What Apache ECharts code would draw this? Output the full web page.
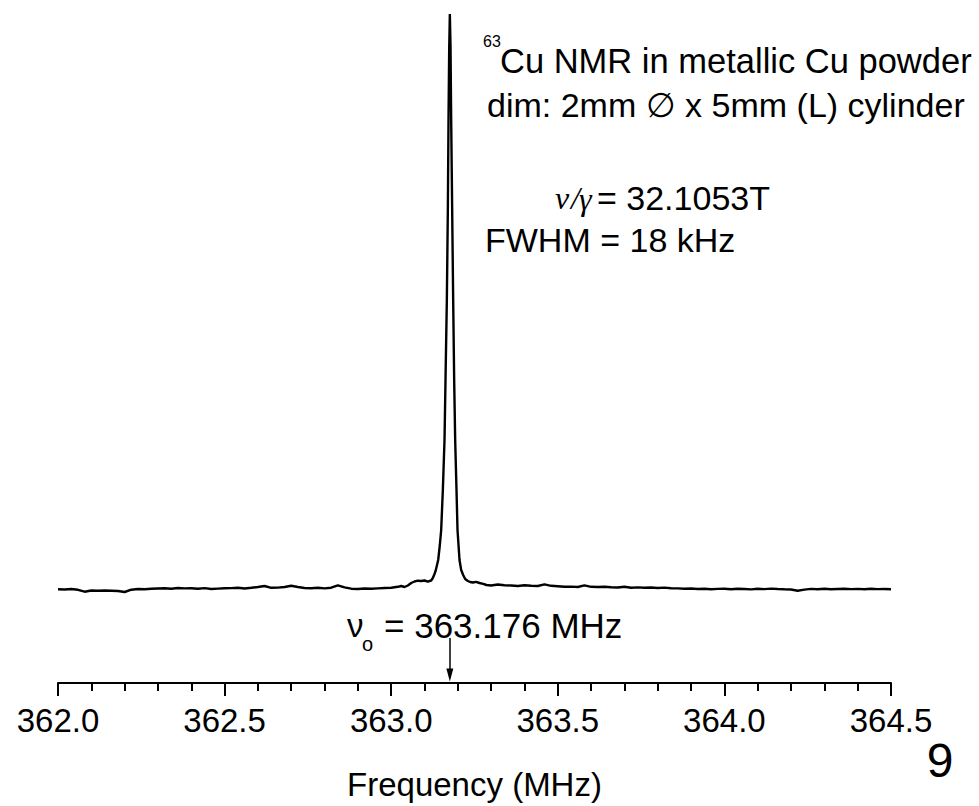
<!DOCTYPE html>
<html><head><meta charset="utf-8">
<script src="https://cdn.jsdelivr.net/npm/echarts@6/dist/echarts.min.js"></script>
<style>html,body{margin:0;padding:0;background:#fff}#c{width:979px;height:806px}</style>
</head><body><div id="c"></div>
<script>
// ---- data ----
const freqMHz = [
362.00,362.02,362.04,362.06,362.08,362.10,362.12,362.14,362.16,362.18,
362.20,362.22,362.24,362.26,362.28,362.30,362.32,362.34,362.36,362.38,
362.40,362.42,362.44,362.46,362.48,362.50,362.52,362.54,362.56,362.58,
362.60,362.62,362.64,362.66,362.68,362.70,362.72,362.74,362.76,362.78,
362.80,362.82,362.84,362.86,362.88,362.90,362.92,362.94,362.96,362.98,
363.00,363.02,363.03,363.04,363.05,363.06,363.07,363.08,363.09,363.10,
363.11,363.12,363.125,363.130,363.134,363.141,363.146,363.150,363.155,363.160,
363.163,363.167,363.170,363.172,363.174,363.176,363.178,363.180,363.183,363.186,
363.189,363.192,363.196,363.199,363.205,363.210,363.216,363.222,363.230,363.237,
363.245,363.255,363.265,363.276,363.286,363.300,363.32,363.34,363.36,363.38,
363.40,363.42,363.44,363.46,363.48,363.50,363.52,363.54,363.56,363.58,
363.60,363.62,363.64,363.66,363.68,363.70,363.72,363.74,363.76,363.78,
363.80,363.82,363.84,363.86,363.88,363.90,363.92,363.94,363.96,363.98,
364.00,364.02,364.04,364.06,364.08,364.10,364.12,364.14,364.16,364.18,
364.20,364.22,364.24,364.26,364.28,364.30,364.32,364.34,364.36,364.38,
364.40,364.42,364.44,364.46,364.48,364.50
];
const intensity = [
0.7,0.5,1.0,0.2,-1.7,-0.5,-0.8,-0.5,-0.7,-1.0,
-2.0,0.3,1.0,0.8,1.2,1.5,1.7,1.3,2.0,1.6,
1.8,1.2,1.9,1.0,1.4,1.7,1.9,2.3,1.5,2.2,
3.0,4.0,2.2,2.4,3.0,4.3,3.0,2.0,1.8,2.2,
1.6,2.3,4.7,2.7,1.3,1.0,1.5,1.2,1.6,2.0,
2.2,3.2,4.0,3.0,4.5,7.0,8.5,9.3,9.0,9.5,
8.3,9.5,12,16,20,30,45,60,100,150,
210,290,380,470,540,576,545,470,380,290,
210,150,100,60,30,20,15,11,9,8,
7.5,8.2,7.0,6.2,5.0,4.5,5.5,4.8,4.5,4.0,
4.7,4.3,4.0,5.7,4.2,3.8,3.3,3.4,3.0,4.7,
3.2,3.0,3.3,2.8,2.5,3.2,2.3,2.6,2.2,2.5,
2.0,2.4,1.8,1.6,1.2,1.5,1.0,1.3,0.8,1.1,
1.2,0.8,1.3,1.0,0.6,1.2,0.9,1.4,1.0,0.7,
0.5,-0.7,0.4,1.1,0.8,1.2,0.7,1.0,1.3,0.9,
1.1,0.8,1.2,0.9,1.0,0.8
];
const xMin = 362.0, xMax = 364.5, xStep = 0.5;
const nu0 = 363.176;
const arrowFrom = -48, arrowTo = -85;
const xAxisTitle = 'Frequency (MHz)';
const noteLine1 = 'Cu NMR in metallic Cu powder';
const noteIsotope = '63';
const noteLine2 = 'dim: 2mm \u2205 x 5mm (L) cylinder';
const noteNu = '\u03BD';
const noteSlash = '/';
const noteGamma = '\u03B3';
const noteRatioVal = '= 32.1053T';
const noteFwhm = 'FWHM = 18 kHz';
const nuLabelMain = '\u03BD';
const nuLabelSub = 'o';
const nuLabelVal = '= 363.176 MHz';
const pageNo = '9';

const F = "'Liberation Sans', Arial, Helvetica, sans-serif";
const FS = "'Liberation Serif', 'Times New Roman', serif";
const chart = echarts.init(document.getElementById('c'), null, {renderer: 'svg'});
const pts = freqMHz.map((f, i) => [f, intensity[i]]);

function txt(x, y, text, font, extra) {
  return Object.assign({type: 'text', x: x, y: y, silent: true,
    style: Object.assign({text: text, font: font, fill: '#000', verticalAlign: 'middle'}, extra || {})});
}

chart.setOption({
  animation: false,
  backgroundColor: '#fff',
  grid: {left: 58, right: 88, top: 12, bottom: 123},
  xAxis: {
    type: 'value', min: xMin, max: xMax, interval: xStep,
    name: xAxisTitle, nameLocation: 'middle', nameGap: 85,
    nameTextStyle: {fontFamily: F, fontSize: 33, color: '#000'},
    axisLine: {show: true, onZero: false, lineStyle: {color: '#000', width: 2}},
    axisTick: {show: true, length: 13, lineStyle: {color: '#000', width: 2}},
    minorTick: {show: true, splitNumber: 5, length: 8, lineStyle: {color: '#000', width: 2}},
    splitLine: {show: false},
    axisLabel: {fontFamily: F, fontSize: 33, color: '#000', margin: 21,
      showMinLabel: true, showMaxLabel: true, formatter: v => v.toFixed(1)}
  },
  yAxis: {type: 'value', show: false, min: -93, max: 578},
  series: [{
    type: 'line', data: pts, showSymbol: false, symbol: 'none',
    lineStyle: {color: '#000', width: 2.4}, silent: true,
    markLine: {
      silent: true, animation: false,
      label: {show: false},
      lineStyle: {color: '#000', width: 1.5, type: 'solid'},
      data: [[
        {coord: [nu0, arrowFrom], symbol: 'none'},
        {coord: [nu0, arrowTo], symbol: 'path://M5,0 L10,20 L0,20 Z', symbolSize: [7, 13]}
      ]]
    }
  }],
  graphic: [
    txt(483, 41, noteIsotope, '16px ' + F),
    txt(500, 60.5, noteLine1, '34.5px ' + F),
    txt(487, 105, noteLine2, '34px ' + F),
    txt(555, 197.5, noteNu, 'italic 32px ' + FS),
    txt(571, 197.5, noteSlash, 'italic 32px ' + FS),
    txt(579, 199, noteGamma, 'italic 32px ' + FS),
    txt(597, 197.5, noteRatioVal, '34px ' + F),
    txt(485, 239.5, noteFwhm, '34px ' + F),
    txt(347, 625, nuLabelMain, '33px ' + F),
    txt(362, 644, nuLabelSub, '20px ' + F),
    txt(384, 625.5, nuLabelVal, '35px ' + F),
    txt(940, 760, pageNo, '48px ' + F, {align: 'center'})
  ]
});
</script></body></html>
